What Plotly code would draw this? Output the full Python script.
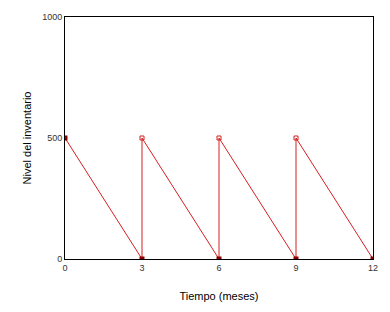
import plotly.graph_objects as go

# Data
t_line = [0, 3, 3, 6, 6, 9, 9, 12]
inv_line = [500, 0, 500, 0, 500, 0, 500, 0]
t_filled = [0, 3, 6, 9, 12]
inv_filled = [500, 0, 0, 0, 0]
t_open = [3, 6, 9]
inv_open = [500, 500, 500]
x_ticks = [0, 3, 6, 9, 12]
y_ticks = [0, 500, 1000]

fig = go.Figure()
fig.add_trace(go.Scatter(x=t_line, y=inv_line, mode="lines",
                         line=dict(color="#d42020", width=1), showlegend=False))
fig.add_trace(go.Scatter(x=t_filled, y=inv_filled, mode="markers",
                         marker=dict(symbol="square", size=5, color="#8b0000",
                                     line=dict(width=0)), showlegend=False))
fig.add_trace(go.Scatter(x=t_open, y=inv_open, mode="markers",
                         marker=dict(symbol="square-open", size=4, color="#d42020",
                                     line=dict(width=1)), showlegend=False))

font = dict(family="Liberation Sans, Arial, sans-serif", color="#000000")
fig.update_layout(
    width=390, height=312,
    margin=dict(l=65, r=17, t=15, b=52),
    paper_bgcolor="white", plot_bgcolor="white",
    font=font,
    xaxis=dict(range=[0, 12], tickvals=x_ticks, showgrid=False, zeroline=False,
               showline=True, linecolor="black", linewidth=1, mirror=True,
               ticks="", tickfont=dict(size=9, color="#333"),
               title=dict(text="Tiempo (meses)", font=dict(size=11), standoff=20)),
    yaxis=dict(range=[0, 1000], tickvals=y_ticks, showgrid=False, zeroline=False,
               showline=True, linecolor="black", linewidth=1, mirror=True,
               ticks="", tickfont=dict(size=9, color="#333"),
               title=dict(text="Nivel del inventario", font=dict(size=11), standoff=8)),
)
fig.write_html("out.html")
